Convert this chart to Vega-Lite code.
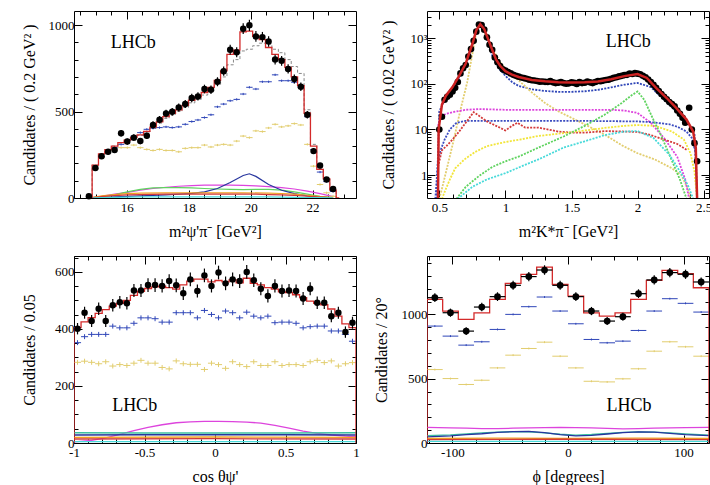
{
"$schema": "https://vega.github.io/schema/vega-lite/v6.json",
"padding": {"left": 20, "top": 10, "right": 0, "bottom": 0},
"config": {
  "view": {"stroke": "#000000", "strokeWidth": 1},
  "font": "Liberation Serif",
  "axis": {"grid": false, "domain": false, "labelFont": "Liberation Serif", "titleFont": "Liberation Serif", "labelFontSize": 13, "titleFontSize": 16, "titleFontWeight": "normal", "labelColor": "#000000", "titleColor": "#000000", "tickColor": "#000000", "tickWidth": 1, "labelFlush": false, "labelOverlap": false, "labelBound": false}
},
"columns": 2,
"spacing": {"row": 58, "column": 71},
"bounds": "flush",
"resolve": {"scale": {"x": "independent", "y": "independent"}},
"datasets": {
"tl_pts": [{"x":14.78,"y":10,"e":3},{"x":14.99,"y":174,"e":13},{"x":15.19,"y":242,"e":16},{"x":15.40,"y":267,"e":16},{"x":15.61,"y":277,"e":17},{"x":15.82,"y":374,"e":19},{"x":16.02,"y":326,"e":18},{"x":16.23,"y":349,"e":19},{"x":16.44,"y":329,"e":18},{"x":16.65,"y":360,"e":19},{"x":16.85,"y":422,"e":21},{"x":17.06,"y":453,"e":21},{"x":17.27,"y":488,"e":22},{"x":17.47,"y":498,"e":22},{"x":17.68,"y":523,"e":23},{"x":17.89,"y":543,"e":23},{"x":18.10,"y":578,"e":24},{"x":18.30,"y":587,"e":24},{"x":18.51,"y":630,"e":25},{"x":18.72,"y":626,"e":25},{"x":18.93,"y":672,"e":26},{"x":19.13,"y":733,"e":27},{"x":19.34,"y":857,"e":29},{"x":19.55,"y":843,"e":29},{"x":19.76,"y":979,"e":31},{"x":19.96,"y":998,"e":32},{"x":20.17,"y":934,"e":31},{"x":20.38,"y":930,"e":30},{"x":20.58,"y":905,"e":30},{"x":20.79,"y":800,"e":28},{"x":21.00,"y":793,"e":28},{"x":21.21,"y":746,"e":27},{"x":21.41,"y":688,"e":26},{"x":21.62,"y":643,"e":25},{"x":21.83,"y":481,"e":22},{"x":22.03,"y":271,"e":16},{"x":22.24,"y":188,"e":14},{"x":22.45,"y":107,"e":10},{"x":22.66,"y":52,"e":7}],
"tl_fit": [{"x":14.78,"y":0},{"x":14.99,"y":190},{"x":15.19,"y":255},{"x":15.40,"y":280},{"x":15.61,"y":300},{"x":15.82,"y":320},{"x":16.02,"y":335},{"x":16.23,"y":350},{"x":16.44,"y":365},{"x":16.65,"y":385},{"x":16.85,"y":410},{"x":17.06,"y":440},{"x":17.27,"y":470},{"x":17.47,"y":490},{"x":17.68,"y":510},{"x":17.89,"y":535},{"x":18.10,"y":565},{"x":18.30,"y":585},{"x":18.51,"y":610},{"x":18.72,"y":640},{"x":18.93,"y":680},{"x":19.13,"y":735},{"x":19.34,"y":830},{"x":19.55,"y":855},{"x":19.76,"y":960},{"x":19.96,"y":965},{"x":20.17,"y":935},{"x":20.38,"y":915},{"x":20.58,"y":870},{"x":20.79,"y":830},{"x":21.00,"y":800},{"x":21.21,"y":755},{"x":21.41,"y":700},{"x":21.62,"y":650},{"x":21.83,"y":490},{"x":22.03,"y":300},{"x":22.24,"y":165},{"x":22.45,"y":110},{"x":22.66,"y":45},{"x":22.86,"y":0}],
"tl_alt": [{"x":14.78,"y":0},{"x":14.99,"y":190},{"x":15.19,"y":250},{"x":15.40,"y":275},{"x":15.61,"y":300},{"x":15.82,"y":318},{"x":16.02,"y":332},{"x":16.23,"y":347},{"x":16.44,"y":362},{"x":16.65,"y":382},{"x":16.85,"y":405},{"x":17.06,"y":433},{"x":17.27,"y":460},{"x":17.47,"y":480},{"x":17.68,"y":500},{"x":17.89,"y":523},{"x":18.10,"y":550},{"x":18.30,"y":570},{"x":18.51,"y":595},{"x":18.72,"y":620},{"x":18.93,"y":655},{"x":19.13,"y":700},{"x":19.34,"y":770},{"x":19.55,"y":800},{"x":19.76,"y":850},{"x":19.96,"y":860},{"x":20.17,"y":880},{"x":20.38,"y":895},{"x":20.58,"y":890},{"x":20.79,"y":860},{"x":21.00,"y":840},{"x":21.21,"y":800},{"x":21.41,"y":760},{"x":21.62,"y":720},{"x":21.83,"y":510},{"x":22.03,"y":310},{"x":22.24,"y":170},{"x":22.45,"y":110},{"x":22.66,"y":45},{"x":22.86,"y":0}],
"tl_cross": [{"x":14.99,"y":170,"s":"blue"},{"x":15.19,"y":238,"s":"blue"},{"x":15.40,"y":262,"s":"blue"},{"x":15.61,"y":291,"s":"blue"},{"x":15.82,"y":310,"s":"blue"},{"x":16.02,"y":333,"s":"blue"},{"x":16.23,"y":358,"s":"blue"},{"x":16.44,"y":378,"s":"blue"},{"x":16.65,"y":397,"s":"blue"},{"x":16.85,"y":403,"s":"blue"},{"x":17.06,"y":407,"s":"blue"},{"x":17.27,"y":411,"s":"blue"},{"x":17.47,"y":407,"s":"blue"},{"x":17.68,"y":411,"s":"blue"},{"x":17.89,"y":426,"s":"blue"},{"x":18.10,"y":442,"s":"blue"},{"x":18.30,"y":451,"s":"blue"},{"x":18.51,"y":465,"s":"blue"},{"x":18.72,"y":481,"s":"blue"},{"x":18.93,"y":527,"s":"blue"},{"x":19.13,"y":543,"s":"blue"},{"x":19.34,"y":562,"s":"blue"},{"x":19.55,"y":570,"s":"blue"},{"x":19.76,"y":601,"s":"blue"},{"x":19.96,"y":640,"s":"blue"},{"x":20.17,"y":630,"s":"blue"},{"x":20.38,"y":672,"s":"blue"},{"x":20.58,"y":672,"s":"blue"},{"x":20.79,"y":712,"s":"blue"},{"x":21.00,"y":678,"s":"blue"},{"x":21.21,"y":678,"s":"blue"},{"x":21.41,"y":669,"s":"blue"},{"x":21.62,"y":640,"s":"blue"},{"x":21.83,"y":470,"s":"blue"},{"x":22.03,"y":280,"s":"blue"},{"x":22.24,"y":150,"s":"blue"},{"x":22.45,"y":95,"s":"blue"},{"x":22.66,"y":38,"s":"blue"},
{"x":14.99,"y":170,"s":"khaki"},{"x":15.19,"y":235,"s":"khaki"},{"x":15.40,"y":262,"s":"khaki"},{"x":15.61,"y":275,"s":"khaki"},{"x":15.82,"y":291,"s":"khaki"},{"x":16.02,"y":291,"s":"khaki"},{"x":16.23,"y":306,"s":"khaki"},{"x":16.44,"y":291,"s":"khaki"},{"x":16.65,"y":281,"s":"khaki"},{"x":16.85,"y":275,"s":"khaki"},{"x":17.06,"y":281,"s":"khaki"},{"x":17.27,"y":275,"s":"khaki"},{"x":17.47,"y":275,"s":"khaki"},{"x":17.68,"y":267,"s":"khaki"},{"x":17.89,"y":287,"s":"khaki"},{"x":18.10,"y":291,"s":"khaki"},{"x":18.30,"y":291,"s":"khaki"},{"x":18.51,"y":306,"s":"khaki"},{"x":18.72,"y":295,"s":"khaki"},{"x":18.93,"y":306,"s":"khaki"},{"x":19.13,"y":310,"s":"khaki"},{"x":19.34,"y":306,"s":"khaki"},{"x":19.55,"y":329,"s":"khaki"},{"x":19.76,"y":358,"s":"khaki"},{"x":19.96,"y":349,"s":"khaki"},{"x":20.17,"y":388,"s":"khaki"},{"x":20.38,"y":384,"s":"khaki"},{"x":20.58,"y":405,"s":"khaki"},{"x":20.79,"y":426,"s":"khaki"},{"x":21.00,"y":411,"s":"khaki"},{"x":21.21,"y":417,"s":"khaki"},{"x":21.41,"y":430,"s":"khaki"},{"x":21.62,"y":422,"s":"khaki"},{"x":21.83,"y":310,"s":"khaki"},{"x":22.03,"y":184,"s":"khaki"},{"x":22.24,"y":78,"s":"khaki"},{"x":22.45,"y":30,"s":"khaki"},{"x":22.66,"y":10,"s":"khaki"}],
"tl_comp": [{"x":14.78,"y":0,"s":"magenta"},{"x":15.19,"y":10,"s":"magenta"},{"x":15.61,"y":22,"s":"magenta"},{"x":16.02,"y":32,"s":"magenta"},{"x":16.44,"y":45,"s":"magenta"},{"x":16.85,"y":55,"s":"magenta"},{"x":17.27,"y":62,"s":"magenta"},{"x":17.68,"y":68,"s":"magenta"},{"x":18.10,"y":72,"s":"magenta"},{"x":18.51,"y":74,"s":"magenta"},{"x":18.93,"y":74,"s":"magenta"},{"x":19.34,"y":74,"s":"magenta"},{"x":19.76,"y":73,"s":"magenta"},{"x":20.17,"y":70,"s":"magenta"},{"x":20.58,"y":66,"s":"magenta"},{"x":21.00,"y":60,"s":"magenta"},{"x":21.41,"y":52,"s":"magenta"},{"x":21.83,"y":40,"s":"magenta"},{"x":22.24,"y":25,"s":"magenta"},{"x":22.66,"y":8,"s":"magenta"},
{"x":14.78,"y":0,"s":"green"},{"x":15.19,"y":8,"s":"green"},{"x":15.61,"y":18,"s":"green"},{"x":16.02,"y":35,"s":"green"},{"x":16.44,"y":50,"s":"green"},{"x":16.85,"y":58,"s":"green"},{"x":17.27,"y":60,"s":"green"},{"x":17.68,"y":60,"s":"green"},{"x":18.10,"y":58,"s":"green"},{"x":18.51,"y":55,"s":"green"},{"x":18.93,"y":52,"s":"green"},{"x":19.34,"y":50,"s":"green"},{"x":19.76,"y":48,"s":"green"},{"x":20.17,"y":50,"s":"green"},{"x":20.58,"y":50,"s":"green"},{"x":21.00,"y":45,"s":"green"},{"x":21.41,"y":35,"s":"green"},{"x":21.83,"y":22,"s":"green"},{"x":22.24,"y":10,"s":"green"},{"x":22.66,"y":3,"s":"green"},
{"x":14.78,"y":0,"s":"navy"},{"x":15.19,"y":3,"s":"navy"},{"x":15.61,"y":6,"s":"navy"},{"x":16.02,"y":9,"s":"navy"},{"x":16.44,"y":12,"s":"navy"},{"x":16.85,"y":15,"s":"navy"},{"x":17.27,"y":18,"s":"navy"},{"x":17.68,"y":22,"s":"navy"},{"x":18.10,"y":27,"s":"navy"},{"x":18.51,"y":35,"s":"navy"},{"x":18.93,"y":55,"s":"navy"},{"x":19.34,"y":90,"s":"navy"},{"x":19.76,"y":130,"s":"navy"},{"x":19.96,"y":140,"s":"navy"},{"x":20.17,"y":125,"s":"navy"},{"x":20.58,"y":78,"s":"navy"},{"x":21.00,"y":45,"s":"navy"},{"x":21.41,"y":25,"s":"navy"},{"x":21.83,"y":12,"s":"navy"},{"x":22.24,"y":5,"s":"navy"},{"x":22.66,"y":1,"s":"navy"},
{"x":14.78,"y":0,"s":"orange"},{"x":15.19,"y":12,"s":"orange"},{"x":15.61,"y":20,"s":"orange"},{"x":16.02,"y":25,"s":"orange"},{"x":16.44,"y":28,"s":"orange"},{"x":17.27,"y":30,"s":"orange"},{"x":18.51,"y":30,"s":"orange"},{"x":19.76,"y":30,"s":"orange"},{"x":20.58,"y":28,"s":"orange"},{"x":21.00,"y":26,"s":"orange"},{"x":21.41,"y":22,"s":"orange"},{"x":21.83,"y":16,"s":"orange"},{"x":22.24,"y":8,"s":"orange"},{"x":22.66,"y":2,"s":"orange"},
{"x":14.78,"y":0,"s":"red"},{"x":15.19,"y":8,"s":"red"},{"x":15.61,"y":14,"s":"red"},{"x":16.02,"y":18,"s":"red"},{"x":16.44,"y":20,"s":"red"},{"x":17.27,"y":22,"s":"red"},{"x":18.51,"y":22,"s":"red"},{"x":20.17,"y":22,"s":"red"},{"x":20.58,"y":20,"s":"red"},{"x":21.00,"y":18,"s":"red"},{"x":21.41,"y":15,"s":"red"},{"x":21.83,"y":10,"s":"red"},{"x":22.24,"y":5,"s":"red"},{"x":22.66,"y":1,"s":"red"},
{"x":14.78,"y":0,"s":"cyan"},{"x":15.19,"y":2,"s":"cyan"},{"x":15.61,"y":4,"s":"cyan"},{"x":16.02,"y":5,"s":"cyan"},{"x":16.44,"y":6,"s":"cyan"},{"x":20.58,"y":6,"s":"cyan"},{"x":21.00,"y":5,"s":"cyan"},{"x":21.41,"y":4,"s":"cyan"},{"x":21.83,"y":3,"s":"cyan"},{"x":22.24,"y":2,"s":"cyan"},{"x":22.66,"y":1,"s":"cyan"}],
"tl_txt": [{"x":16.21,"y":897,"t":"LHCb"}],
"tr_pts": [{"x":0.50,"y":10},{"x":0.52,"y":19},{"x":0.54,"y":45},{"x":0.56,"y":52},{"x":0.58,"y":58},{"x":0.60,"y":68},{"x":0.62,"y":82},{"x":0.64,"y":110},{"x":0.66,"y":170},{"x":0.68,"y":220},{"x":0.70,"y":260},{"x":0.72,"y":400},{"x":0.74,"y":580},{"x":0.76,"y":880},{"x":0.78,"y":1400},{"x":0.80,"y":2000},{"x":0.82,"y":1950},{"x":0.84,"y":1550},{"x":0.86,"y":1050},{"x":0.88,"y":720},{"x":0.90,"y":560},{"x":0.92,"y":380},{"x":0.94,"y":300},{"x":0.96,"y":245},{"x":0.98,"y":210},{"x":1.00,"y":195},{"x":1.02,"y":182},{"x":1.04,"y":170},{"x":1.06,"y":158},{"x":1.08,"y":150},{"x":1.10,"y":144},{"x":1.12,"y":138},{"x":1.14,"y":134},{"x":1.16,"y":130},{"x":1.18,"y":124},{"x":1.20,"y":120},{"x":1.22,"y":119},{"x":1.24,"y":116},{"x":1.26,"y":112},{"x":1.28,"y":113},{"x":1.30,"y":111},{"x":1.32,"y":110},{"x":1.34,"y":115},{"x":1.36,"y":108},{"x":1.38,"y":104},{"x":1.40,"y":106},{"x":1.42,"y":110},{"x":1.44,"y":104},{"x":1.46,"y":101},{"x":1.48,"y":103},{"x":1.50,"y":108},{"x":1.52,"y":105},{"x":1.54,"y":100},{"x":1.56,"y":110},{"x":1.58,"y":104},{"x":1.60,"y":106},{"x":1.62,"y":113},{"x":1.64,"y":108},{"x":1.66,"y":104},{"x":1.68,"y":110},{"x":1.70,"y":116},{"x":1.72,"y":115},{"x":1.74,"y":118},{"x":1.76,"y":122},{"x":1.78,"y":124},{"x":1.80,"y":130},{"x":1.82,"y":136},{"x":1.84,"y":140},{"x":1.86,"y":146},{"x":1.88,"y":150},{"x":1.90,"y":156},{"x":1.92,"y":158},{"x":1.94,"y":168},{"x":1.96,"y":165},{"x":1.98,"y":172},{"x":2.00,"y":168},{"x":2.02,"y":163},{"x":2.04,"y":150},{"x":2.06,"y":140},{"x":2.08,"y":125},{"x":2.10,"y":110},{"x":2.12,"y":95},{"x":2.14,"y":82},{"x":2.16,"y":70},{"x":2.18,"y":60},{"x":2.20,"y":52},{"x":2.22,"y":46},{"x":2.24,"y":40},{"x":2.26,"y":36},{"x":2.28,"y":32},{"x":2.30,"y":26},{"x":2.32,"y":22},{"x":2.34,"y":18},{"x":2.36,"y":14},{"x":2.39,"y":30},{"x":2.41,"y":10},{"x":2.43,"y":5},{"x":2.45,"y":2}],
"tr_fit": [{"x":0.49,"y":0.3},{"x":0.495,"y":10},{"x":0.52,"y":35},{"x":0.55,"y":55},{"x":0.6,"y":85},{"x":0.65,"y":150},{"x":0.7,"y":280},{"x":0.72,"y":420},{"x":0.75,"y":750},{"x":0.78,"y":1500},{"x":0.81,"y":2050},{"x":0.84,"y":1600},{"x":0.87,"y":950},{"x":0.9,"y":560},{"x":0.93,"y":340},{"x":0.96,"y":250},{"x":1.0,"y":190},{"x":1.05,"y":160},{"x":1.1,"y":142},{"x":1.2,"y":122},{"x":1.3,"y":114},{"x":1.4,"y":109},{"x":1.5,"y":107},{"x":1.6,"y":108},{"x":1.7,"y":113},{"x":1.8,"y":127},{"x":1.9,"y":148},{"x":2.0,"y":165},{"x":2.07,"y":135},{"x":2.14,"y":82},{"x":2.22,"y":49},{"x":2.29,"y":30},{"x":2.37,"y":16.5},{"x":2.42,"y":9},{"x":2.44,"y":4},{"x":2.45,"y":0.3}],
"tr_comp": [{"x":0.48,"y":0.3,"s":"blue"},{"x":0.5,"y":25,"s":"blue"},{"x":0.55,"y":50,"s":"blue"},{"x":0.6,"y":80,"s":"blue"},{"x":0.65,"y":140,"s":"blue"},{"x":0.7,"y":260,"s":"blue"},{"x":0.75,"y":700,"s":"blue"},{"x":0.78,"y":1400,"s":"blue"},{"x":0.81,"y":1900,"s":"blue"},{"x":0.84,"y":1450,"s":"blue"},{"x":0.87,"y":800,"s":"blue"},{"x":0.9,"y":420,"s":"blue"},{"x":0.95,"y":220,"s":"blue"},{"x":1.0,"y":150,"s":"blue"},{"x":1.05,"y":110,"s":"blue"},{"x":1.1,"y":90,"s":"blue"},{"x":1.2,"y":76,"s":"blue"},{"x":1.3,"y":70,"s":"blue"},{"x":1.4,"y":67,"s":"blue"},{"x":1.5,"y":67,"s":"blue"},{"x":1.6,"y":69,"s":"blue"},{"x":1.7,"y":74,"s":"blue"},{"x":1.8,"y":84,"s":"blue"},{"x":1.9,"y":96,"s":"blue"},{"x":2.0,"y":105,"s":"blue"},{"x":2.1,"y":85,"s":"blue"},{"x":2.2,"y":45,"s":"blue"},{"x":2.3,"y":24,"s":"blue"},{"x":2.38,"y":14,"s":"blue"},{"x":2.43,"y":8,"s":"blue"},{"x":2.45,"y":0.3,"s":"blue"},
{"x":0.5,"y":0.3,"s":"khaki"},{"x":0.52,"y":0.5,"s":"khaki"},{"x":0.56,"y":1.5,"s":"khaki"},{"x":0.61,"y":6,"s":"khaki"},{"x":0.66,"y":27,"s":"khaki"},{"x":0.71,"y":105,"s":"khaki"},{"x":0.75,"y":450,"s":"khaki"},{"x":0.78,"y":1400,"s":"khaki"},{"x":0.81,"y":1950,"s":"khaki"},{"x":0.84,"y":1400,"s":"khaki"},{"x":0.88,"y":750,"s":"khaki"},{"x":0.92,"y":480,"s":"khaki"},{"x":0.97,"y":270,"s":"khaki"},{"x":1.02,"y":185,"s":"khaki"},{"x":1.1,"y":120,"s":"khaki"},{"x":1.2,"y":65,"s":"khaki"},{"x":1.3,"y":38,"s":"khaki"},{"x":1.4,"y":25,"s":"khaki"},{"x":1.5,"y":18,"s":"khaki"},{"x":1.63,"y":11.7,"s":"khaki"},{"x":1.75,"y":7.7,"s":"khaki"},{"x":1.88,"y":4.5,"s":"khaki"},{"x":2.0,"y":3.0,"s":"khaki"},{"x":2.13,"y":2.2,"s":"khaki"},{"x":2.26,"y":1.4,"s":"khaki"},{"x":2.33,"y":1.0,"s":"khaki"},{"x":2.38,"y":0.5,"s":"khaki"},{"x":2.4,"y":0.3,"s":"khaki"},
{"x":0.49,"y":12,"s":"magenta"},{"x":0.51,"y":19,"s":"magenta"},{"x":0.55,"y":22,"s":"magenta"},{"x":0.6,"y":24,"s":"magenta"},{"x":0.7,"y":27,"s":"magenta"},{"x":0.8,"y":28,"s":"magenta"},{"x":1.0,"y":27,"s":"magenta"},{"x":1.2,"y":27,"s":"magenta"},{"x":1.4,"y":27,"s":"magenta"},{"x":1.6,"y":27,"s":"magenta"},{"x":1.8,"y":27,"s":"magenta"},{"x":1.9,"y":26,"s":"magenta"},{"x":2.0,"y":23,"s":"magenta"},{"x":2.1,"y":14,"s":"magenta"},{"x":2.2,"y":6.5,"s":"magenta"},{"x":2.3,"y":2.5,"s":"magenta"},{"x":2.36,"y":0.8,"s":"magenta"},{"x":2.39,"y":0.3,"s":"magenta"},
{"x":0.47,"y":0.3,"s":"blue2"},{"x":0.49,"y":2,"s":"blue2"},{"x":0.51,"y":3.5,"s":"blue2"},{"x":0.54,"y":6,"s":"blue2"},{"x":0.58,"y":10,"s":"blue2"},{"x":0.63,"y":14,"s":"blue2"},{"x":0.7,"y":15.5,"s":"blue2"},{"x":1.0,"y":15.5,"s":"blue2"},{"x":1.5,"y":15.5,"s":"blue2"},{"x":2.0,"y":15,"s":"blue2"},{"x":2.1,"y":14.5,"s":"blue2"},{"x":2.24,"y":13,"s":"blue2"},{"x":2.3,"y":11.5,"s":"blue2"},{"x":2.37,"y":9,"s":"blue2"},{"x":2.41,"y":6.5,"s":"blue2"},{"x":2.44,"y":3,"s":"blue2"},{"x":2.45,"y":0.3,"s":"blue2"},
{"x":0.49,"y":1.5,"s":"red"},{"x":0.52,"y":3.5,"s":"red"},{"x":0.56,"y":4.5,"s":"red"},{"x":0.6,"y":6,"s":"red"},{"x":0.65,"y":9,"s":"red"},{"x":0.7,"y":14,"s":"red"},{"x":0.76,"y":24,"s":"red"},{"x":0.8,"y":20,"s":"red"},{"x":0.86,"y":15,"s":"red"},{"x":0.93,"y":12,"s":"red"},{"x":1.0,"y":9.5,"s":"red"},{"x":1.05,"y":12,"s":"red"},{"x":1.09,"y":14,"s":"red"},{"x":1.15,"y":11,"s":"red"},{"x":1.25,"y":11,"s":"red"},{"x":1.4,"y":9,"s":"red"},{"x":1.5,"y":8.5,"s":"red"},{"x":1.6,"y":8.5,"s":"red"},{"x":1.75,"y":9.2,"s":"red"},{"x":1.9,"y":9,"s":"red"},{"x":2.0,"y":8.8,"s":"red"},{"x":2.1,"y":7.5,"s":"red"},{"x":2.2,"y":6,"s":"red"},{"x":2.3,"y":4.8,"s":"red"},{"x":2.37,"y":3.6,"s":"red"},
{"x":0.52,"y":0.3,"s":"yellow"},{"x":0.55,"y":0.5,"s":"yellow"},{"x":0.58,"y":0.8,"s":"yellow"},{"x":0.62,"y":1.4,"s":"yellow"},{"x":0.69,"y":2.2,"s":"yellow"},{"x":0.77,"y":3.2,"s":"yellow"},{"x":0.86,"y":4.3,"s":"yellow"},{"x":1.0,"y":5.3,"s":"yellow"},{"x":1.11,"y":6,"s":"yellow"},{"x":1.25,"y":7.2,"s":"yellow"},{"x":1.44,"y":8.3,"s":"yellow"},{"x":1.6,"y":9.5,"s":"yellow"},{"x":1.75,"y":10.8,"s":"yellow"},{"x":1.9,"y":12,"s":"yellow"},{"x":2.0,"y":12.5,"s":"yellow"},{"x":2.13,"y":12,"s":"yellow"},{"x":2.26,"y":9,"s":"yellow"},{"x":2.35,"y":6,"s":"yellow"},{"x":2.4,"y":3,"s":"yellow"},{"x":2.43,"y":1.2,"s":"yellow"},{"x":2.45,"y":0.3,"s":"yellow"},
{"x":0.63,"y":0.3,"s":"green"},{"x":0.7,"y":0.55,"s":"green"},{"x":0.8,"y":0.95,"s":"green"},{"x":0.9,"y":1.5,"s":"green"},{"x":1.0,"y":2.0,"s":"green"},{"x":1.11,"y":2.6,"s":"green"},{"x":1.25,"y":4,"s":"green"},{"x":1.44,"y":7,"s":"green"},{"x":1.6,"y":12,"s":"green"},{"x":1.75,"y":21,"s":"green"},{"x":1.88,"y":38,"s":"green"},{"x":1.95,"y":55,"s":"green"},{"x":2.0,"y":68,"s":"green"},{"x":2.05,"y":45,"s":"green"},{"x":2.09,"y":25,"s":"green"},{"x":2.13,"y":14,"s":"green"},{"x":2.17,"y":8.3,"s":"green"},{"x":2.24,"y":2.8,"s":"green"},{"x":2.32,"y":0.8,"s":"green"},{"x":2.37,"y":0.3,"s":"green"},
{"x":0.64,"y":0.3,"s":"cyan"},{"x":0.75,"y":0.55,"s":"cyan"},{"x":0.86,"y":0.8,"s":"cyan"},{"x":1.0,"y":1.1,"s":"cyan"},{"x":1.11,"y":1.5,"s":"cyan"},{"x":1.25,"y":2.2,"s":"cyan"},{"x":1.44,"y":4,"s":"cyan"},{"x":1.6,"y":5.5,"s":"cyan"},{"x":1.75,"y":7.5,"s":"cyan"},{"x":1.9,"y":9,"s":"cyan"},{"x":2.0,"y":9.2,"s":"cyan"},{"x":2.12,"y":6.5,"s":"cyan"},{"x":2.24,"y":2.8,"s":"cyan"},{"x":2.32,"y":1.2,"s":"cyan"},{"x":2.38,"y":0.6,"s":"cyan"},{"x":2.42,"y":0.3,"s":"cyan"}],
"tr_txt": [{"x":1.93,"y":836,"t":"LHCb"}],
"bl_pts": [{"x":-0.975,"y":401,"e":20},{"x":-0.925,"y":457,"e":21},{"x":-0.875,"y":428,"e":21},{"x":-0.825,"y":471,"e":22},{"x":-0.775,"y":428,"e":21},{"x":-0.725,"y":483,"e":22},{"x":-0.675,"y":494,"e":22},{"x":-0.625,"y":490,"e":22},{"x":-0.575,"y":535,"e":23},{"x":-0.525,"y":535,"e":23},{"x":-0.475,"y":554,"e":24},{"x":-0.425,"y":554,"e":24},{"x":-0.375,"y":551,"e":23},{"x":-0.325,"y":568,"e":24},{"x":-0.275,"y":553,"e":24},{"x":-0.225,"y":525,"e":23},{"x":-0.175,"y":574,"e":24},{"x":-0.125,"y":533,"e":23},{"x":-0.075,"y":588,"e":24},{"x":-0.025,"y":551,"e":23},{"x":0.025,"y":598,"e":24},{"x":0.075,"y":560,"e":24},{"x":0.125,"y":574,"e":24},{"x":0.175,"y":568,"e":24},{"x":0.225,"y":600,"e":24},{"x":0.275,"y":571,"e":24},{"x":0.325,"y":541,"e":23},{"x":0.375,"y":516,"e":23},{"x":0.425,"y":551,"e":23},{"x":0.475,"y":533,"e":23},{"x":0.525,"y":535,"e":23},{"x":0.575,"y":533,"e":23},{"x":0.625,"y":507,"e":23},{"x":0.675,"y":541,"e":23},{"x":0.725,"y":492,"e":22},{"x":0.775,"y":492,"e":22},{"x":0.825,"y":445,"e":21},{"x":0.875,"y":457,"e":21},{"x":0.925,"y":389,"e":20},{"x":0.975,"y":422,"e":21}],
"bl_fit": [{"x":-1.025,"y":0},{"x":-0.975,"y":405},{"x":-0.925,"y":425},{"x":-0.875,"y":440},{"x":-0.825,"y":455},{"x":-0.775,"y":468},{"x":-0.725,"y":480},{"x":-0.675,"y":490},{"x":-0.625,"y":500},{"x":-0.575,"y":518},{"x":-0.525,"y":532},{"x":-0.475,"y":542},{"x":-0.425,"y":548},{"x":-0.375,"y":550},{"x":-0.325,"y":545},{"x":-0.275,"y":540},{"x":-0.225,"y":555},{"x":-0.175,"y":568},{"x":-0.125,"y":575},{"x":-0.075,"y":575},{"x":-0.025,"y":565},{"x":0.025,"y":570},{"x":0.075,"y":565},{"x":0.125,"y":572},{"x":0.175,"y":562},{"x":0.225,"y":578},{"x":0.275,"y":560},{"x":0.325,"y":555},{"x":0.375,"y":545},{"x":0.425,"y":540},{"x":0.475,"y":530},{"x":0.525,"y":528},{"x":0.575,"y":520},{"x":0.625,"y":510},{"x":0.675,"y":498},{"x":0.725,"y":490},{"x":0.775,"y":485},{"x":0.825,"y":470},{"x":0.875,"y":445},{"x":0.925,"y":418},{"x":0.975,"y":405},{"x":1.025,"y":0}],
"bl_cross": [{"x":-0.975,"y":352,"s":"blue"},{"x":-0.925,"y":373,"s":"blue"},{"x":-0.875,"y":381,"s":"blue"},{"x":-0.825,"y":381,"s":"blue"},{"x":-0.775,"y":381,"s":"blue"},{"x":-0.725,"y":410,"s":"blue"},{"x":-0.675,"y":404,"s":"blue"},{"x":-0.625,"y":404,"s":"blue"},{"x":-0.575,"y":420,"s":"blue"},{"x":-0.525,"y":439,"s":"blue"},{"x":-0.475,"y":439,"s":"blue"},{"x":-0.425,"y":436,"s":"blue"},{"x":-0.375,"y":424,"s":"blue"},{"x":-0.325,"y":424,"s":"blue"},{"x":-0.275,"y":457,"s":"blue"},{"x":-0.225,"y":457,"s":"blue"},{"x":-0.175,"y":457,"s":"blue"},{"x":-0.125,"y":439,"s":"blue"},{"x":-0.075,"y":465,"s":"blue"},{"x":-0.025,"y":451,"s":"blue"},{"x":0.025,"y":439,"s":"blue"},{"x":0.075,"y":463,"s":"blue"},{"x":0.125,"y":457,"s":"blue"},{"x":0.175,"y":439,"s":"blue"},{"x":0.225,"y":459,"s":"blue"},{"x":0.275,"y":445,"s":"blue"},{"x":0.325,"y":439,"s":"blue"},{"x":0.375,"y":445,"s":"blue"},{"x":0.425,"y":422,"s":"blue"},{"x":0.475,"y":424,"s":"blue"},{"x":0.525,"y":424,"s":"blue"},{"x":0.575,"y":420,"s":"blue"},{"x":0.625,"y":404,"s":"blue"},{"x":0.675,"y":408,"s":"blue"},{"x":0.725,"y":410,"s":"blue"},{"x":0.775,"y":410,"s":"blue"},{"x":0.825,"y":393,"s":"blue"},{"x":0.875,"y":393,"s":"blue"},{"x":0.925,"y":381,"s":"blue"},{"x":0.975,"y":357,"s":"blue"},
{"x":-0.975,"y":283,"s":"khaki"},{"x":-0.925,"y":287,"s":"khaki"},{"x":-0.875,"y":283,"s":"khaki"},{"x":-0.825,"y":278,"s":"khaki"},{"x":-0.775,"y":285,"s":"khaki"},{"x":-0.725,"y":270,"s":"khaki"},{"x":-0.675,"y":275,"s":"khaki"},{"x":-0.625,"y":272,"s":"khaki"},{"x":-0.575,"y":280,"s":"khaki"},{"x":-0.525,"y":290,"s":"khaki"},{"x":-0.475,"y":280,"s":"khaki"},{"x":-0.425,"y":280,"s":"khaki"},{"x":-0.375,"y":265,"s":"khaki"},{"x":-0.325,"y":260,"s":"khaki"},{"x":-0.275,"y":288,"s":"khaki"},{"x":-0.225,"y":278,"s":"khaki"},{"x":-0.175,"y":276,"s":"khaki"},{"x":-0.125,"y":276,"s":"khaki"},{"x":-0.075,"y":258,"s":"khaki"},{"x":-0.025,"y":280,"s":"khaki"},{"x":0.025,"y":275,"s":"khaki"},{"x":0.075,"y":262,"s":"khaki"},{"x":0.125,"y":285,"s":"khaki"},{"x":0.175,"y":275,"s":"khaki"},{"x":0.225,"y":268,"s":"khaki"},{"x":0.275,"y":285,"s":"khaki"},{"x":0.325,"y":272,"s":"khaki"},{"x":0.375,"y":272,"s":"khaki"},{"x":0.425,"y":285,"s":"khaki"},{"x":0.475,"y":272,"s":"khaki"},{"x":0.525,"y":275,"s":"khaki"},{"x":0.575,"y":275,"s":"khaki"},{"x":0.625,"y":272,"s":"khaki"},{"x":0.675,"y":285,"s":"khaki"},{"x":0.725,"y":290,"s":"khaki"},{"x":0.775,"y":282,"s":"khaki"},{"x":0.825,"y":288,"s":"khaki"},{"x":0.875,"y":270,"s":"khaki"},{"x":0.925,"y":278,"s":"khaki"},{"x":0.975,"y":282,"s":"khaki"}],
"bl_comp": [{"x":-1,"y":4,"s":"magenta"},{"x":-0.875,"y":9,"s":"magenta"},{"x":-0.775,"y":18,"s":"magenta"},{"x":-0.675,"y":30,"s":"magenta"},{"x":-0.575,"y":43,"s":"magenta"},{"x":-0.475,"y":55,"s":"magenta"},{"x":-0.375,"y":64,"s":"magenta"},{"x":-0.275,"y":71,"s":"magenta"},{"x":-0.175,"y":74,"s":"magenta"},{"x":-0.075,"y":76,"s":"magenta"},{"x":0.025,"y":76,"s":"magenta"},{"x":0.125,"y":75,"s":"magenta"},{"x":0.225,"y":73,"s":"magenta"},{"x":0.325,"y":70,"s":"magenta"},{"x":0.425,"y":62,"s":"magenta"},{"x":0.525,"y":52,"s":"magenta"},{"x":0.625,"y":42,"s":"magenta"},{"x":0.725,"y":34,"s":"magenta"},{"x":0.825,"y":28,"s":"magenta"},{"x":0.925,"y":24,"s":"magenta"},{"x":1,"y":22,"s":"magenta"},
{"x":-1,"y":36,"s":"teal"},{"x":-0.5,"y":35,"s":"teal"},{"x":0,"y":35,"s":"teal"},{"x":0.5,"y":35,"s":"teal"},{"x":1,"y":36,"s":"teal"},
{"x":-1,"y":28,"s":"navy"},{"x":-0.5,"y":29,"s":"navy"},{"x":0,"y":29,"s":"navy"},{"x":0.5,"y":29,"s":"navy"},{"x":1,"y":28,"s":"navy"},
{"x":-1,"y":20,"s":"orange"},{"x":0,"y":21,"s":"orange"},{"x":1,"y":20,"s":"orange"},
{"x":-1,"y":14,"s":"red"},{"x":0,"y":15,"s":"red"},{"x":1,"y":14,"s":"red"},
{"x":-1,"y":5,"s":"cyan"},{"x":0,"y":5,"s":"cyan"},{"x":1,"y":5,"s":"cyan"}],
"bl_txt": [{"x":-0.57,"y":129,"t":"LHCb"}],
"br_pts": [{"x":-115.2,"y":1130,"e":34},{"x":-101.7,"y":1013,"e":32},{"x":-88.1,"y":870,"e":30},{"x":-74.6,"y":1057,"e":33},{"x":-61.0,"y":1138,"e":34},{"x":-47.5,"y":1226,"e":35},{"x":-33.9,"y":1294,"e":36},{"x":-20.3,"y":1345,"e":37},{"x":-6.8,"y":1226,"e":35},{"x":6.8,"y":1138,"e":34},{"x":20.3,"y":1026,"e":32},{"x":33.9,"y":948,"e":31},{"x":47.5,"y":982,"e":31},{"x":61.0,"y":1161,"e":34},{"x":74.6,"y":1268,"e":36},{"x":88.1,"y":1325,"e":36},{"x":101.7,"y":1312,"e":36},{"x":115.2,"y":1252,"e":35}],
"br_fit": [{"x":-128.8,"y":0},{"x":-115.2,"y":1117},{"x":-101.7,"y":1026},{"x":-88.1,"y":961},{"x":-74.6,"y":1012},{"x":-61.0,"y":1117},{"x":-47.5,"y":1241},{"x":-33.9,"y":1311},{"x":-20.3,"y":1368},{"x":-6.8,"y":1233},{"x":6.8,"y":1142},{"x":20.3,"y":1012},{"x":33.9,"y":987},{"x":47.5,"y":1012},{"x":61.0,"y":1117},{"x":74.6,"y":1265},{"x":88.1,"y":1343},{"x":101.7,"y":1317},{"x":115.2,"y":1207},{"x":128.8,"y":0}],
"br_cross": [{"x":-115.2,"y":909,"s":"blue"},{"x":-101.7,"y":831,"s":"blue"},{"x":-88.1,"y":761,"s":"blue"},{"x":-74.6,"y":787,"s":"blue"},{"x":-61.0,"y":883,"s":"blue"},{"x":-47.5,"y":1000,"s":"blue"},{"x":-33.9,"y":1060,"s":"blue"},{"x":-20.3,"y":1135,"s":"blue"},{"x":-6.8,"y":1026,"s":"blue"},{"x":6.8,"y":927,"s":"blue"},{"x":20.3,"y":805,"s":"blue"},{"x":33.9,"y":779,"s":"blue"},{"x":47.5,"y":792,"s":"blue"},{"x":61.0,"y":875,"s":"blue"},{"x":74.6,"y":1026,"s":"blue"},{"x":88.1,"y":1122,"s":"blue"},{"x":101.7,"y":1086,"s":"blue"},{"x":115.2,"y":1018,"s":"blue"},
{"x":-115.2,"y":571,"s":"khaki"},{"x":-101.7,"y":501,"s":"khaki"},{"x":-88.1,"y":455,"s":"khaki"},{"x":-74.6,"y":488,"s":"khaki"},{"x":-61.0,"y":584,"s":"khaki"},{"x":-47.5,"y":683,"s":"khaki"},{"x":-33.9,"y":735,"s":"khaki"},{"x":-20.3,"y":784,"s":"khaki"},{"x":-6.8,"y":675,"s":"khaki"},{"x":6.8,"y":584,"s":"khaki"},{"x":20.3,"y":480,"s":"khaki"},{"x":33.9,"y":475,"s":"khaki"},{"x":47.5,"y":499,"s":"khaki"},{"x":61.0,"y":577,"s":"khaki"},{"x":74.6,"y":714,"s":"khaki"},{"x":88.1,"y":787,"s":"khaki"},{"x":101.7,"y":748,"s":"khaki"},{"x":115.2,"y":675,"s":"khaki"}],
"br_comp": [{"x":-122,"y":122,"s":"magenta"},{"x":-101.7,"y":118,"s":"magenta"},{"x":-88.1,"y":115,"s":"magenta"},{"x":-74.6,"y":112,"s":"magenta"},{"x":-61.0,"y":112,"s":"magenta"},{"x":-47.5,"y":115,"s":"magenta"},{"x":-33.9,"y":118,"s":"magenta"},{"x":-20.3,"y":120,"s":"magenta"},{"x":-6.8,"y":122,"s":"magenta"},{"x":6.8,"y":120,"s":"magenta"},{"x":20.3,"y":117,"s":"magenta"},{"x":33.9,"y":113,"s":"magenta"},{"x":47.5,"y":110,"s":"magenta"},{"x":61.0,"y":112,"s":"magenta"},{"x":74.6,"y":115,"s":"magenta"},{"x":88.1,"y":118,"s":"magenta"},{"x":101.7,"y":120,"s":"magenta"},{"x":122,"y":122,"s":"magenta"},
{"x":-122,"y":58,"s":"teal"},{"x":-101.7,"y":63,"s":"teal"},{"x":-88.1,"y":70,"s":"teal"},{"x":-74.6,"y":78,"s":"teal"},{"x":-61.0,"y":85,"s":"teal"},{"x":-47.5,"y":88,"s":"teal"},{"x":-33.9,"y":86,"s":"teal"},{"x":-20.3,"y":78,"s":"teal"},{"x":-6.8,"y":68,"s":"teal"},{"x":6.8,"y":62,"s":"teal"},{"x":20.3,"y":66,"s":"teal"},{"x":33.9,"y":74,"s":"teal"},{"x":47.5,"y":82,"s":"teal"},{"x":61.0,"y":86,"s":"teal"},{"x":74.6,"y":84,"s":"teal"},{"x":88.1,"y":78,"s":"teal"},{"x":101.7,"y":70,"s":"teal"},{"x":122,"y":62,"s":"teal"},
{"x":-122,"y":47,"s":"navy"},{"x":-101.7,"y":55,"s":"navy"},{"x":-88.1,"y":65,"s":"navy"},{"x":-74.6,"y":72,"s":"navy"},{"x":-61.0,"y":82,"s":"navy"},{"x":-47.5,"y":88,"s":"navy"},{"x":-33.9,"y":90,"s":"navy"},{"x":-20.3,"y":80,"s":"navy"},{"x":-6.8,"y":65,"s":"navy"},{"x":6.8,"y":55,"s":"navy"},{"x":20.3,"y":60,"s":"navy"},{"x":33.9,"y":70,"s":"navy"},{"x":47.5,"y":80,"s":"navy"},{"x":61.0,"y":86,"s":"navy"},{"x":74.6,"y":84,"s":"navy"},{"x":88.1,"y":75,"s":"navy"},{"x":101.7,"y":65,"s":"navy"},{"x":122,"y":57,"s":"navy"},
{"x":-122,"y":35,"s":"orange"},{"x":-61,"y":38,"s":"orange"},{"x":0,"y":35,"s":"orange"},{"x":61,"y":38,"s":"orange"},{"x":122,"y":35,"s":"orange"},
{"x":-122,"y":27,"s":"red"},{"x":0,"y":29,"s":"red"},{"x":122,"y":27,"s":"red"},
{"x":-122,"y":12,"s":"cyan"},{"x":0,"y":12,"s":"cyan"},{"x":122,"y":12,"s":"cyan"}],
"br_txt": [{"x":52.8,"y":286,"t":"LHCb"}]
},
"concat": [
{
 "width": 282, "height": 187,
 "resolve": {"axis": {"x": "independent", "y": "independent"}},
 "layer": [
  {"data": {"name": "tl_comp"}, "mark": {"type": "line", "strokeWidth": 1.2, "clip": true},
   "encoding": {"x": {"field": "x", "type": "quantitative", "scale": {"domain": [14.3, 23.4], "nice": false, "zero": false}, "axis": null},
    "y": {"field": "y", "type": "quantitative", "scale": {"domain": [0, 1081], "nice": false, "zero": false}, "axis": null},
    "color": {"field": "s", "type": "nominal", "legend": null, "scale": {"domain": ["fit","alt","blue","khaki","magenta","green","navy","orange","red","cyan","teal","yellow","blue2"], "range": ["#d42a2a","#8a8a8a","#2f46b8","#e2cd6e","#dd44dd","#5fd35f","#27359e","#f0a020","#d33a3a","#48dada","#3cc0a0","#f2e53a","#3b4cc0"]}}}},
  {"data": {"name": "tl_cross"}, "mark": {"type": "point", "shape": "M-1,0H1M0,-0.35V0.35", "size": 41, "filled": false, "strokeWidth": 1, "opacity": 1, "clip": true},
   "encoding": {"x": {"field": "x", "type": "quantitative", "scale": {"domain": [14.3, 23.4], "nice": false, "zero": false}, "axis": null},
    "y": {"field": "y", "type": "quantitative", "scale": {"domain": [0, 1081], "nice": false, "zero": false}, "axis": null},
    "color": {"field": "s", "type": "nominal", "legend": null, "scale": {"domain": ["fit","alt","blue","khaki","magenta","green","navy","orange","red","cyan","teal","yellow","blue2"], "range": ["#d42a2a","#8a8a8a","#2f46b8","#e2cd6e","#dd44dd","#5fd35f","#27359e","#f0a020","#d33a3a","#48dada","#3cc0a0","#f2e53a","#3b4cc0"]}}}},
  {"data": {"name": "tl_alt"}, "mark": {"type": "line", "interpolate": "step", "strokeDash": [3, 2], "strokeWidth": 1, "color": "#888888", "clip": true},
   "encoding": {"x": {"field": "x", "type": "quantitative", "scale": {"domain": [14.3, 23.4], "nice": false, "zero": false}, "axis": null},
    "y": {"field": "y", "type": "quantitative", "scale": {"domain": [0, 1081], "nice": false, "zero": false}, "axis": null}}},
  {"data": {"name": "tl_fit"}, "mark": {"type": "line", "interpolate": "step", "strokeWidth": 1.3, "color": "#d42a2a", "clip": true},
   "encoding": {"x": {"field": "x", "type": "quantitative", "scale": {"domain": [14.3, 23.4], "nice": false, "zero": false}, "axis": null},
    "y": {"field": "y", "type": "quantitative", "scale": {"domain": [0, 1081], "nice": false, "zero": false}, "axis": null}}},
  {"data": {"name": "tl_pts"}, "mark": {"type": "errorbar", "ticks": false, "color": "#000000", "thickness": 1.2},
   "encoding": {"x": {"field": "x", "type": "quantitative", "scale": {"domain": [14.3, 23.4], "nice": false, "zero": false}, "axis": null},
    "y": {"field": "y", "type": "quantitative", "scale": {"domain": [0, 1081], "nice": false, "zero": false}, "axis": null},
    "yError": {"field": "e"}}},
  {"data": {"name": "tl_pts"}, "mark": {"type": "point", "filled": true, "shape": "circle", "size": 42, "color": "#000000", "opacity": 1},
   "encoding": {"x": {"field": "x", "type": "quantitative", "scale": {"domain": [14.3, 23.4], "nice": false, "zero": false},
      "axis": {"orient": "bottom", "title": "m²ψ'π⁻ [GeV²]", "values": [14.5,15,15.5,16,16.5,17,17.5,18,18.5,19,19.5,20,20.5,21,21.5,22,22.5,23], "tickSize": {"condition": {"test": "datum.value % 2 === 0", "value": -8}, "value": -4}, "labelExpr": "datum.value % 2 === 0 ? '' + datum.value : ''", "labelPadding": 11, "titlePadding": 5}},
    "y": {"field": "y", "type": "quantitative", "scale": {"domain": [0, 1081], "nice": false, "zero": false},
      "axis": {"orient": "left", "title": "Candidates / ( 0.2 GeV² )", "values": [0,100,200,300,400,500,600,700,800,900,1000], "tickSize": {"condition": {"test": "datum.value % 500 === 0", "value": -8}, "value": -4}, "labelExpr": "datum.value % 500 === 0 ? '' + datum.value : ''", "labelPadding": 8, "minExtent": 34, "maxExtent": 34, "titlePadding": 3}}}},
  {"data": {"name": "tl_txt"}, "mark": {"type": "text", "fontSize": 18, "font": "Liberation Serif", "color": "#000000", "align": "center", "baseline": "middle"},
   "encoding": {"text": {"field": "t"},
    "x": {"field": "x", "type": "quantitative", "scale": {"domain": [14.3, 23.4], "nice": false, "zero": false},
      "axis": {"orient": "top", "title": null, "labels": false, "values": [14.5,15,15.5,16,16.5,17,17.5,18,18.5,19,19.5,20,20.5,21,21.5,22,22.5,23], "tickSize": {"condition": {"test": "datum.value % 2 === 0", "value": -8}, "value": -4}}},
    "y": {"field": "y", "type": "quantitative", "scale": {"domain": [0, 1081], "nice": false, "zero": false},
      "axis": {"orient": "right", "title": null, "labels": false, "values": [0,100,200,300,400,500,600,700,800,900,1000], "tickSize": {"condition": {"test": "datum.value % 500 === 0", "value": -8}, "value": -4}}}}}
 ]
},
{
 "width": 282, "height": 187,
 "resolve": {"axis": {"x": "independent", "y": "independent"}},
 "layer": [
  {"data": {"name": "tr_comp"}, "mark": {"type": "line", "strokeWidth": 1.8, "strokeDash": [2, 1.3], "clip": true},
   "encoding": {"x": {"field": "x", "type": "quantitative", "scale": {"domain": [0.407, 2.54], "nice": false, "zero": false}, "axis": null},
    "y": {"field": "y", "type": "quantitative", "scale": {"type": "log", "domain": [0.313, 3980], "nice": false}, "axis": null},
    "color": {"field": "s", "type": "nominal", "legend": null, "scale": {"domain": ["fit","alt","blue","khaki","magenta","green","navy","orange","red","cyan","teal","yellow","blue2"], "range": ["#d42a2a","#8a8a8a","#2f46b8","#e2cd6e","#dd44dd","#5fd35f","#27359e","#f0a020","#d33a3a","#48dada","#3cc0a0","#f2e53a","#3b4cc0"]}}}},
  {"data": {"name": "tr_pts"}, "mark": {"type": "point", "filled": true, "shape": "circle", "size": 44, "color": "#000000", "opacity": 1, "clip": true},
   "encoding": {"x": {"field": "x", "type": "quantitative", "scale": {"domain": [0.407, 2.54], "nice": false, "zero": false},
      "axis": {"orient": "bottom", "title": "m²K*π⁻ [GeV²]", "values": [0.5,0.6,0.7,0.8,0.9,1,1.1,1.2,1.3,1.4,1.5,1.6,1.7,1.8,1.9,2,2.1,2.2,2.3,2.4,2.5], "tickSize": {"condition": {"test": "abs(datum.value*2 - round(datum.value*2)) < 0.001", "value": -8}, "value": -4}, "labelExpr": "abs(datum.value*2 - round(datum.value*2)) < 0.001 ? '' + datum.value : ''", "labelPadding": 11, "titlePadding": 5}},
    "y": {"field": "y", "type": "quantitative", "scale": {"type": "log", "domain": [0.313, 3980], "nice": false},
      "axis": {"orient": "left", "title": "Candidates / ( 0.02 GeV² )", "values": [0.4,0.5,0.6,0.7,0.8,0.9,1,2,3,4,5,6,7,8,9,10,20,30,40,50,60,70,80,90,100,200,300,400,500,600,700,800,900,1000,2000,3000], "tickSize": {"condition": {"test": "indexof([1,10,100,1000], datum.value) >= 0", "value": -8}, "value": -4}, "labelExpr": "datum.value === 1 ? '1' : datum.value === 10 ? '10' : datum.value === 100 ? '10²' : datum.value === 1000 ? '10³' : ''", "labelPadding": 8, "minExtent": 24, "maxExtent": 24, "titlePadding": 7}}}},
  {"data": {"name": "tr_fit"}, "mark": {"type": "line", "strokeWidth": 2.5, "color": "#cc2222", "clip": true},
   "encoding": {"x": {"field": "x", "type": "quantitative", "scale": {"domain": [0.407, 2.54], "nice": false, "zero": false}, "axis": null},
    "y": {"field": "y", "type": "quantitative", "scale": {"type": "log", "domain": [0.313, 3980], "nice": false}, "axis": null}}},
  {"data": {"name": "tr_txt"}, "mark": {"type": "text", "fontSize": 18, "font": "Liberation Serif", "color": "#000000", "align": "center", "baseline": "middle"},
   "encoding": {"text": {"field": "t"},
    "x": {"field": "x", "type": "quantitative", "scale": {"domain": [0.407, 2.54], "nice": false, "zero": false},
      "axis": {"orient": "top", "title": null, "labels": false, "values": [0.5,0.6,0.7,0.8,0.9,1,1.1,1.2,1.3,1.4,1.5,1.6,1.7,1.8,1.9,2,2.1,2.2,2.3,2.4,2.5], "tickSize": {"condition": {"test": "abs(datum.value*2 - round(datum.value*2)) < 0.001", "value": -8}, "value": -4}}},
    "y": {"field": "y", "type": "quantitative", "scale": {"type": "log", "domain": [0.313, 3980], "nice": false},
      "axis": {"orient": "right", "title": null, "labels": false, "values": [0.4,0.5,0.6,0.7,0.8,0.9,1,2,3,4,5,6,7,8,9,10,20,30,40,50,60,70,80,90,100,200,300,400,500,600,700,800,900,1000,2000,3000], "tickSize": {"condition": {"test": "indexof([1,10,100,1000], datum.value) >= 0", "value": -8}, "value": -4}}}}}
 ]
},
{
 "width": 282, "height": 187,
 "resolve": {"axis": {"x": "independent", "y": "independent"}},
 "layer": [
  {"data": {"name": "bl_comp"}, "mark": {"type": "line", "strokeWidth": 1.3, "clip": true},
   "encoding": {"x": {"field": "x", "type": "quantitative", "scale": {"domain": [-1, 1], "nice": false, "zero": false}, "axis": null},
    "y": {"field": "y", "type": "quantitative", "scale": {"domain": [0, 656], "nice": false, "zero": false}, "axis": null},
    "color": {"field": "s", "type": "nominal", "legend": null, "scale": {"domain": ["fit","alt","blue","khaki","magenta","green","navy","orange","red","cyan","teal","yellow","blue2"], "range": ["#d42a2a","#8a8a8a","#2f46b8","#e2cd6e","#dd44dd","#5fd35f","#27359e","#f0a020","#d33a3a","#48dada","#3cc0a0","#f2e53a","#3b4cc0"]}}}},
  {"data": {"name": "bl_cross"}, "mark": {"type": "point", "shape": "M-1,0H1M0,-0.7V0.7", "size": 50, "filled": false, "strokeWidth": 1, "opacity": 1, "clip": true},
   "encoding": {"x": {"field": "x", "type": "quantitative", "scale": {"domain": [-1, 1], "nice": false, "zero": false}, "axis": null},
    "y": {"field": "y", "type": "quantitative", "scale": {"domain": [0, 656], "nice": false, "zero": false}, "axis": null},
    "color": {"field": "s", "type": "nominal", "legend": null, "scale": {"domain": ["fit","alt","blue","khaki","magenta","green","navy","orange","red","cyan","teal","yellow","blue2"], "range": ["#d42a2a","#8a8a8a","#2f46b8","#e2cd6e","#dd44dd","#5fd35f","#27359e","#f0a020","#d33a3a","#48dada","#3cc0a0","#f2e53a","#3b4cc0"]}}}},
  {"data": {"name": "bl_fit"}, "mark": {"type": "line", "interpolate": "step", "strokeWidth": 1.3, "color": "#d42a2a", "clip": true},
   "encoding": {"x": {"field": "x", "type": "quantitative", "scale": {"domain": [-1, 1], "nice": false, "zero": false}, "axis": null},
    "y": {"field": "y", "type": "quantitative", "scale": {"domain": [0, 656], "nice": false, "zero": false}, "axis": null}}},
  {"data": {"name": "bl_pts"}, "mark": {"type": "errorbar", "ticks": false, "color": "#000000", "thickness": 1.2},
   "encoding": {"x": {"field": "x", "type": "quantitative", "scale": {"domain": [-1, 1], "nice": false, "zero": false}, "axis": null},
    "y": {"field": "y", "type": "quantitative", "scale": {"domain": [0, 656], "nice": false, "zero": false}, "axis": null},
    "yError": {"field": "e"}}},
  {"data": {"name": "bl_pts"}, "mark": {"type": "point", "filled": true, "shape": "circle", "size": 42, "color": "#000000", "opacity": 1},
   "encoding": {"x": {"field": "x", "type": "quantitative", "scale": {"domain": [-1, 1], "nice": false, "zero": false},
      "axis": {"orient": "bottom", "title": "cos θψ'", "values": [-1,-0.9,-0.8,-0.7,-0.6,-0.5,-0.4,-0.3,-0.2,-0.1,0,0.1,0.2,0.3,0.4,0.5,0.6,0.7,0.8,0.9,1], "tickSize": {"condition": {"test": "abs(datum.value*2 - round(datum.value*2)) < 0.001", "value": -8}, "value": -4}, "labelExpr": "abs(datum.value*2 - round(datum.value*2)) < 0.001 ? '' + datum.value : ''", "labelPadding": 11, "titlePadding": 5}},
    "y": {"field": "y", "type": "quantitative", "scale": {"domain": [0, 656], "nice": false, "zero": false},
      "axis": {"orient": "left", "title": "Candidates / 0.05", "values": [0,50,100,150,200,250,300,350,400,450,500,550,600,650], "tickSize": {"condition": {"test": "datum.value % 200 === 0", "value": -8}, "value": -4}, "labelExpr": "datum.value % 200 === 0 ? '' + datum.value : ''", "labelPadding": 8, "minExtent": 34, "maxExtent": 34, "titlePadding": 3}}}},
  {"data": {"name": "bl_txt"}, "mark": {"type": "text", "fontSize": 18, "font": "Liberation Serif", "color": "#000000", "align": "center", "baseline": "middle"},
   "encoding": {"text": {"field": "t"},
    "x": {"field": "x", "type": "quantitative", "scale": {"domain": [-1, 1], "nice": false, "zero": false},
      "axis": {"orient": "top", "title": null, "labels": false, "values": [-1,-0.9,-0.8,-0.7,-0.6,-0.5,-0.4,-0.3,-0.2,-0.1,0,0.1,0.2,0.3,0.4,0.5,0.6,0.7,0.8,0.9,1], "tickSize": {"condition": {"test": "abs(datum.value*2 - round(datum.value*2)) < 0.001", "value": -8}, "value": -4}}},
    "y": {"field": "y", "type": "quantitative", "scale": {"domain": [0, 656], "nice": false, "zero": false},
      "axis": {"orient": "right", "title": null, "labels": false, "values": [0,50,100,150,200,250,300,350,400,450,500,550,600,650], "tickSize": {"condition": {"test": "datum.value % 200 === 0", "value": -8}, "value": -4}}}}}
 ]
},
{
 "width": 282, "height": 187,
 "resolve": {"axis": {"x": "independent", "y": "independent"}},
 "layer": [
  {"data": {"name": "br_comp"}, "mark": {"type": "line", "strokeWidth": 1.3, "clip": true},
   "encoding": {"x": {"field": "x", "type": "quantitative", "scale": {"domain": [-122, 122], "nice": false, "zero": false}, "axis": null},
    "y": {"field": "y", "type": "quantitative", "scale": {"domain": [0, 1454], "nice": false, "zero": false}, "axis": null},
    "color": {"field": "s", "type": "nominal", "legend": null, "scale": {"domain": ["fit","alt","blue","khaki","magenta","green","navy","orange","red","cyan","teal","yellow","blue2"], "range": ["#d42a2a","#8a8a8a","#2f46b8","#e2cd6e","#dd44dd","#5fd35f","#27359e","#f0a020","#d33a3a","#48dada","#3cc0a0","#f2e53a","#3b4cc0"]}}}},
  {"data": {"name": "br_cross"}, "mark": {"type": "point", "shape": "M-1,0H1M0,-0.12V0.12", "size": 246, "filled": false, "strokeWidth": 1, "opacity": 1, "clip": true},
   "encoding": {"x": {"field": "x", "type": "quantitative", "scale": {"domain": [-122, 122], "nice": false, "zero": false}, "axis": null},
    "y": {"field": "y", "type": "quantitative", "scale": {"domain": [0, 1454], "nice": false, "zero": false}, "axis": null},
    "color": {"field": "s", "type": "nominal", "legend": null, "scale": {"domain": ["fit","alt","blue","khaki","magenta","green","navy","orange","red","cyan","teal","yellow","blue2"], "range": ["#d42a2a","#8a8a8a","#2f46b8","#e2cd6e","#dd44dd","#5fd35f","#27359e","#f0a020","#d33a3a","#48dada","#3cc0a0","#f2e53a","#3b4cc0"]}}}},
  {"data": {"name": "br_fit"}, "mark": {"type": "line", "interpolate": "step", "strokeWidth": 1.3, "color": "#d42a2a", "clip": true},
   "encoding": {"x": {"field": "x", "type": "quantitative", "scale": {"domain": [-122, 122], "nice": false, "zero": false}, "axis": null},
    "y": {"field": "y", "type": "quantitative", "scale": {"domain": [0, 1454], "nice": false, "zero": false}, "axis": null}}},
  {"data": {"name": "br_pts"}, "mark": {"type": "errorbar", "ticks": false, "color": "#000000", "thickness": 1.2},
   "encoding": {"x": {"field": "x", "type": "quantitative", "scale": {"domain": [-122, 122], "nice": false, "zero": false}, "axis": null},
    "y": {"field": "y", "type": "quantitative", "scale": {"domain": [0, 1454], "nice": false, "zero": false}, "axis": null},
    "yError": {"field": "e"}}},
  {"data": {"name": "br_pts"}, "mark": {"type": "point", "shape": "M-1,0H1", "size": 246, "filled": false, "strokeWidth": 1.2, "color": "#000000", "opacity": 1},
   "encoding": {"x": {"field": "x", "type": "quantitative", "scale": {"domain": [-122, 122], "nice": false, "zero": false}, "axis": null},
    "y": {"field": "y", "type": "quantitative", "scale": {"domain": [0, 1454], "nice": false, "zero": false}, "axis": null}}},
  {"data": {"name": "br_pts"}, "mark": {"type": "point", "filled": true, "shape": "circle", "size": 46, "color": "#000000", "opacity": 1},
   "encoding": {"x": {"field": "x", "type": "quantitative", "scale": {"domain": [-122, 122], "nice": false, "zero": false},
      "axis": {"orient": "bottom", "title": "ϕ [degrees]", "values": [-120,-100,-80,-60,-40,-20,0,20,40,60,80,100,120], "tickSize": {"condition": {"test": "datum.value % 100 === 0", "value": -8}, "value": -4}, "labelExpr": "datum.value % 100 === 0 ? '' + datum.value : ''", "labelPadding": 11, "titlePadding": 5}},
    "y": {"field": "y", "type": "quantitative", "scale": {"domain": [0, 1454], "nice": false, "zero": false},
      "axis": {"orient": "left", "title": "Candidates / 20°", "values": [0,100,200,300,400,500,600,700,800,900,1000,1100,1200,1300,1400], "tickSize": {"condition": {"test": "datum.value % 500 === 0", "value": -8}, "value": -4}, "labelExpr": "datum.value % 500 === 0 ? '' + datum.value : ''", "labelPadding": 8, "minExtent": 34, "maxExtent": 34, "titlePadding": 4}}}},
  {"data": {"name": "br_txt"}, "mark": {"type": "text", "fontSize": 18, "font": "Liberation Serif", "color": "#000000", "align": "center", "baseline": "middle"},
   "encoding": {"text": {"field": "t"},
    "x": {"field": "x", "type": "quantitative", "scale": {"domain": [-122, 122], "nice": false, "zero": false},
      "axis": {"orient": "top", "title": null, "labels": false, "values": [-120,-100,-80,-60,-40,-20,0,20,40,60,80,100,120], "tickSize": {"condition": {"test": "datum.value % 100 === 0", "value": -8}, "value": -4}}},
    "y": {"field": "y", "type": "quantitative", "scale": {"domain": [0, 1454], "nice": false, "zero": false},
      "axis": {"orient": "right", "title": null, "labels": false, "values": [0,100,200,300,400,500,600,700,800,900,1000,1100,1200,1300,1400], "tickSize": {"condition": {"test": "datum.value % 500 === 0", "value": -8}, "value": -4}}}}}
 ]
}
]
}
